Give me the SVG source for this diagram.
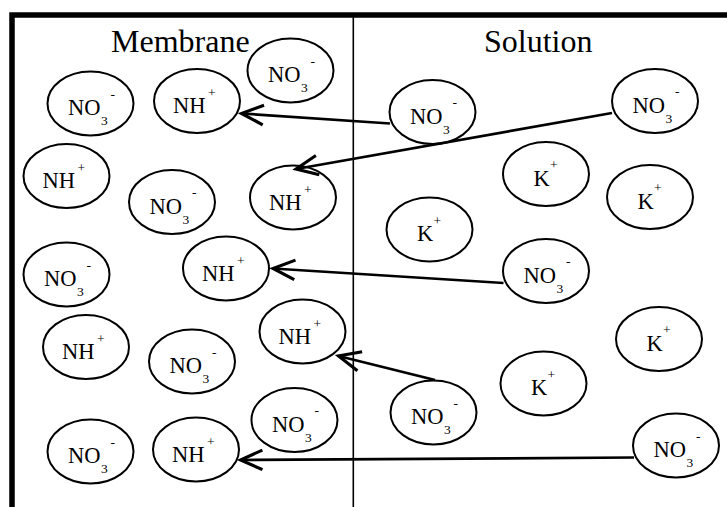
<svg xmlns="http://www.w3.org/2000/svg" width="727" height="507" viewBox="0 0 727 507">
<style>
.ov{fill:#fff;stroke:#000;stroke-width:2}
text{font-family:"Liberation Serif","Times New Roman",serif;fill:#000}
.m{font-size:22.5px}
.s{font-size:13.5px}
.t{font-size:32px}
.arr line{stroke:#000;stroke-width:2.7;marker-start:url(#chev)}
</style>
<defs>
<marker id="chev" markerUnits="userSpaceOnUse" markerWidth="30" markerHeight="30" refX="0" refY="0" viewBox="-3 -12 26 24" orient="auto" overflow="visible">
<path d="M19,-8.5 L0,0 L19,8.5" fill="none" stroke="#000" stroke-width="2.7"/>
</marker>
<g id="no3"><ellipse class="ov" rx="43" ry="32"/><text class="m" x="-22.5" y="11.5">NO</text><text class="s" x="10.5" y="21.5">3</text><text class="s" x="20" y="-5">-</text></g>
<g id="nh"><ellipse class="ov" rx="43" ry="32"/><text class="m" x="-24" y="12">NH</text><text class="s" x="11" y="-4">+</text></g>
<g id="k"><ellipse class="ov" rx="43" ry="32"/><text class="m" x="-12.5" y="11.5">K</text><text class="s" x="4" y="-5">+</text></g>
</defs>
<g id="frame">
<path d="M12,507 V15 H727" fill="none" stroke="#000" stroke-width="5.5"/>
<line x1="353.3" y1="15" x2="353.3" y2="507" stroke="#000" stroke-width="1.6"/>
<text class="t" x="111" y="52">Membrane</text>
<text class="t" x="484" y="52">Solution</text>
</g>
<g id="m1"><use href="#no3" x="290.5" y="70.5"/></g>
<g id="m2"><use href="#no3" x="90.5" y="103.5"/></g>
<g id="m3"><use href="#nh" x="197" y="101"/></g>
<g id="m4"><use href="#nh" x="66.5" y="176"/></g>
<g id="m5"><use href="#no3" x="172" y="202"/></g>
<g id="m6"><use href="#nh" x="293" y="197.5"/></g>
<g id="m7"><use href="#no3" x="66.5" y="274.5"/></g>
<g id="m8"><use href="#nh" x="226" y="268.5"/></g>
<g id="m9"><use href="#nh" x="302.5" y="331.5"/></g>
<g id="m10"><use href="#nh" x="86" y="347"/></g>
<g id="m11"><use href="#no3" x="192" y="361.5"/></g>
<g id="m12"><use href="#no3" x="294.5" y="420"/></g>
<g id="m13"><use href="#no3" x="90.5" y="451.5"/></g>
<g id="m14"><use href="#nh" x="196" y="449.5"/></g>
<g id="s1"><use href="#no3" x="432.5" y="112"/></g>
<g id="s2"><use href="#no3" x="655" y="101"/></g>
<g id="s3"><use href="#k" x="546" y="174"/></g>
<g id="s4"><use href="#k" x="650" y="197"/></g>
<g id="s5"><use href="#k" x="429.5" y="229.5"/></g>
<g id="s6"><use href="#no3" x="546" y="271"/></g>
<g id="s7"><use href="#k" x="659" y="339"/></g>
<g id="s8"><use href="#k" x="543.5" y="383.5"/></g>
<g id="s9"><use href="#no3" x="433.5" y="412.5"/></g>
<g id="s10"><use href="#no3" x="676" y="445.5"/></g>
<g id="connectors" class="arr">
<line x1="241.5" y1="113.5" x2="390" y2="123.5"/>
<line x1="296" y1="169" x2="612" y2="113"/>
<line x1="273" y1="268.5" x2="503.5" y2="283"/>
<line x1="338.5" y1="356" x2="435" y2="380"/>
<line x1="240.5" y1="460" x2="634" y2="457.5"/>
</g>
</svg>
